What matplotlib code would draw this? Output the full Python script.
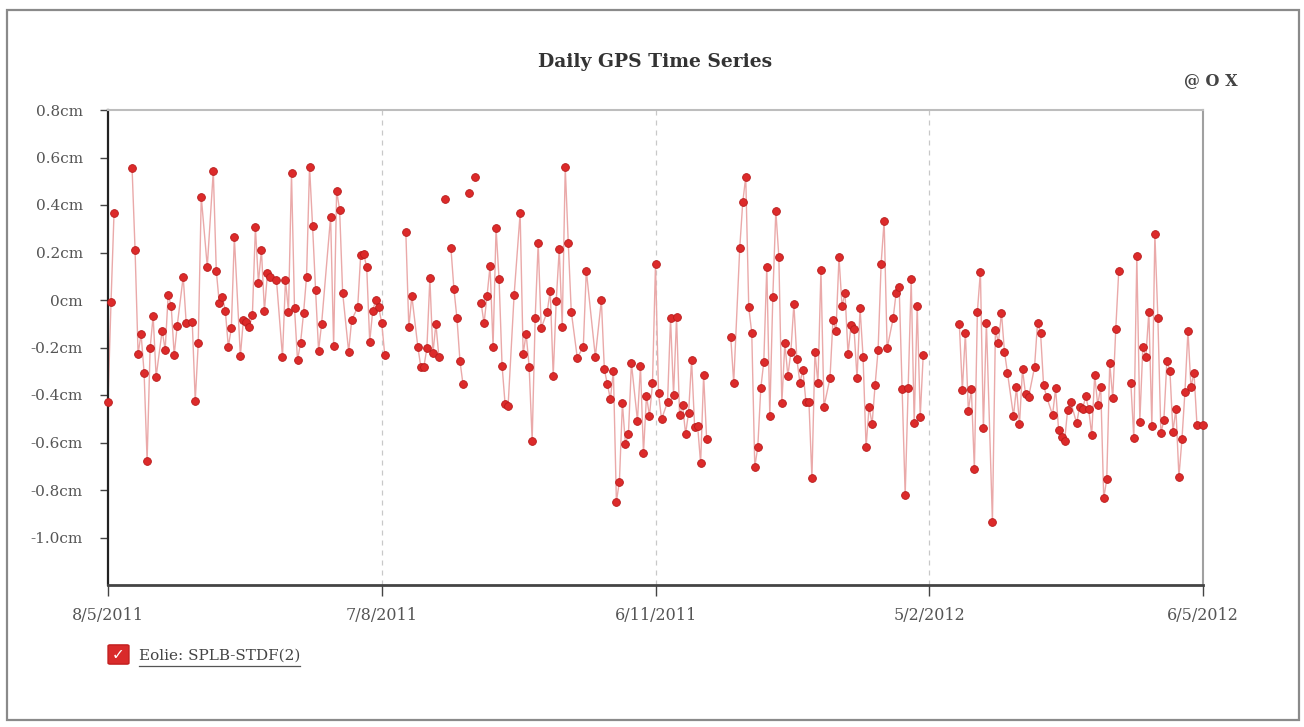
import numpy as np
import matplotlib
matplotlib.use("Agg")
import matplotlib.pyplot as plt
from matplotlib.patches import Rectangle, FancyBboxPatch
from matplotlib.lines import Line2D

# daily offsets from 8/5/2011 and position in cm (nan = no solution that day)
days = [0, 1, 2, 5, 8, 9, 10, 11, 12, 13, 14, 15, 16, 18, 19, 20, 21, 22, 23, 25, 26, 28, 29, 30,
        31, 33, 35, 36, 37, 38, 39, 40, 41, 42, 44, 45, 46, 47, 48, 49, 50, 51, 52, 53, 54, 56,
        58, 59, 60, 61, 62, 63, 64, 65, 66, 67, 68, 69, 70, 71, 74, 75, 76, 77, 78, 80, 81, 83,
        84, 85, 86, 87, 88, 89, 90, 91, 92, 95, 99, 100, 101, 103, 104, 105, 106, 107, 108, 109,
        110, 111, 112, 113, 114, 115, 116, 117, 118, 119, 120, 121, 122, 123, 124, 125, 126, 127,
        128, 129, 130, 131, 132, 133, 135, 137, 138, 139, 140, 141, 142, 143, 144, 146, 147, 148,
        149, 150, 151, 152, 153, 154, 156, 158, 159, 162, 164, 165, 166, 167, 168, 169, 170, 171,
        172, 173, 174, 176, 177, 178, 179, 180, 181, 182, 183, 184, 186, 187, 188, 189, 190, 191,
        192, 193, 194, 195, 196, 197, 198, 199, 203, 207, 208, 210, 211, 212, 213, 214, 215, 216,
        217, 218, 219, 220, 221, 222, 223, 224, 225, 226, 227, 228, 229, 230, 231, 232, 233, 234,
        235, 236, 237, 238, 240, 241, 242, 243, 244, 245, 246, 247, 248, 249, 250, 251, 252, 253,
        254, 255, 256, 257, 258, 259, 261, 262, 263, 264, 265, 266, 267, 268, 269, 270, 271, 276,
        283, 284, 285, 286, 287, 288, 289, 290, 291, 292, 294, 295, 296, 297, 298, 299, 301, 302,
        303, 304, 305, 306, 308, 309, 310, 311, 312, 314, 315, 316, 317, 318, 319, 320, 322, 323,
        324, 325, 326, 327, 328, 329, 330, 331, 332, 333, 334, 335, 336, 338, 340, 341, 342, 343,
        344, 345, 346, 347, 348, 349, 350, 351, 352, 353, 354, 355, 356, 357, 358, 359, 360, 361,
        362, 364]
nan = float("nan")
gps_cm = [-0.43, -0.01, 0.365, nan, 0.557, 0.21, -0.227, -0.143, -0.306, -0.677, -0.204, -0.067,
          -0.323, -0.129, -0.21, 0.021, -0.024, -0.231, -0.109, 0.098, -0.098, -0.091, -0.425,
          -0.182, 0.435, 0.14, 0.543, 0.122, -0.014, 0.014, -0.045, -0.197, -0.119, 0.264, -0.236,
          -0.084, -0.091, -0.112, -0.063, 0.306, 0.073, 0.21, -0.045, 0.112, 0.098, 0.084, -0.239,
          0.084, -0.049, 0.533, -0.035, -0.253, -0.182, -0.056, 0.098, 0.561, 0.312, 0.042, -0.213,
          -0.101, 0.351, -0.194, 0.46, 0.379, 0.031, -0.218, -0.084, -0.031, 0.19, 0.194, 0.138,
          -0.176, -0.045, 0.0, -0.031, -0.098, -0.231, nan, 0.288, -0.115, 0.017, -0.197, -0.283,
          -0.281, -0.204, 0.091, -0.225, -0.101, -0.239, nan, 0.424, nan, 0.218, 0.045, -0.077,
          -0.257, -0.354, nan, 0.452, nan, 0.517, nan, -0.011, -0.098, 0.017, 0.143, -0.197, 0.302,
          0.087, -0.277, -0.438, -0.446, 0.021, 0.365, -0.227, -0.143, -0.281, -0.592, -0.077,
          0.239, -0.119, -0.049, 0.039, -0.319, -0.003, 0.213, -0.112, 0.559, 0.241, -0.049, -0.243,
          -0.197, 0.124, -0.239, 0.0, -0.292, -0.355, -0.418, -0.298, -0.849, -0.765, -0.435,
          -0.606, -0.564, -0.267, -0.508, -0.278, -0.645, -0.404, -0.488, -0.351, 0.152, -0.39,
          -0.502, -0.43, -0.077, -0.4, -0.073, -0.484, -0.442, -0.564, -0.474, -0.253, -0.533,
          -0.53, -0.688, -0.316, -0.587, nan, -0.154, -0.348, 0.218, 0.411, 0.519, -0.031, -0.138,
          -0.702, -0.62, -0.372, -0.26, 0.14, -0.488, 0.014, 0.376, 0.182, -0.435, -0.182, -0.32,
          -0.218, -0.017, -0.25, -0.348, -0.295, -0.428, -0.428, -0.751, -0.218, -0.351, 0.126,
          -0.449, -0.33, -0.084, -0.129, 0.18, -0.025, 0.028, -0.227, -0.105, -0.123, -0.33,
          -0.035, -0.239, -0.62, -0.449, -0.522, -0.358, -0.21, 0.152, 0.334, -0.204, -0.077,
          0.031, 0.056, -0.376, -0.821, -0.372, 0.087, -0.519, -0.025, -0.491, -0.231, nan,
          -0.101, -0.379, -0.14, -0.466, -0.376, -0.713, -0.049, 0.119, -0.54, -0.095, -0.933,
          -0.126, -0.18, -0.053, -0.218, -0.306, -0.488, -0.368, -0.522, -0.292, -0.396, -0.41,
          -0.283, -0.095, -0.138, -0.358, -0.407, -0.484, -0.372, -0.547, -0.575, -0.592, -0.463,
          -0.428, -0.519, -0.449, -0.46, -0.404, -0.46, -0.568, -0.316, -0.442, -0.365, -0.835,
          -0.755, -0.267, -0.414, -0.123, 0.124, nan, -0.348, -0.582, 0.185, -0.512, -0.199,
          -0.241, -0.049, -0.53, 0.278, -0.077, -0.561, -0.505, -0.255, -0.298, -0.554, -0.46,
          -0.744, -0.587, -0.386, -0.129, -0.368, -0.306, -0.526, -0.526]

x_ticks = [0, 91, 182, 273, 364]
x_labels = ["8/5/2011", "7/8/2011", "6/11/2011", "5/2/2012", "6/5/2012"]
y_ticks = [0.8, 0.6, 0.4, 0.2, 0.0, -0.2, -0.4, -0.6, -0.8, -1.0]
y_labels = ["0.8cm", "0.6cm", "0.4cm", "0.2cm", "0cm", "-0.2cm", "-0.4cm", "-0.6cm", "-0.8cm", "-1.0cm"]
series_name = "Eolie: SPLB-STDF(2)"

W, H = 1304, 727
plt.rcParams["font.family"] = ["DejaVu Serif"]

fig = plt.figure(figsize=(W / 100, H / 100), dpi=100)


def fx(x):
    return x / W


def fy(y):
    return 1 - y / H


# outer frame
fig.patches.append(Rectangle((fx(7), fy(720)), fx(1299) - fx(7), fy(10) - fy(720),
                             transform=fig.transFigure, fill=False, ec="#8a8a8a", lw=1.6))

ax = fig.add_axes([fx(108), fy(585), fx(1203) - fx(108), fy(110) - fy(585)])

ax.plot(days, gps_cm, color="#eaa9a9", lw=1.0, zorder=2)
ax.plot(days, gps_cm, "o", ms=5.6, color="#dc2a2a", mec="#b81c1c", mew=0.6, zorder=3,
        clip_on=False)

ax.set_xlim(0, 364)
ax.set_ylim(-1.2, 0.8)

for t in x_ticks[1:-1]:
    ax.axvline(t, color="#c8c8c8", lw=0.9, ls=(0, (4, 4)), zorder=1)

ax.set_xticks(x_ticks)
ax.set_xticklabels(x_labels, fontsize=11.5, color="#555555")
ax.set_yticks(y_ticks)
ax.set_yticklabels(y_labels, fontsize=11, color="#555555")
ax.tick_params(axis="x", length=8, width=1, color="#444444", pad=8)
ax.tick_params(axis="y", length=6, width=1, color="#444444", pad=12)

ax.spines["left"].set_color("#222222")
ax.spines["left"].set_linewidth(1.6)
ax.spines["bottom"].set_color("#444444")
ax.spines["bottom"].set_linewidth(2.0)
ax.spines["top"].set_color("#bdbdbd")
ax.spines["top"].set_linewidth(1.5)
ax.spines["right"].set_color("#a0a0a0")
ax.spines["right"].set_linewidth(1.5)

fig.text(fx(655), fy(62), "Daily GPS Time Series", ha="center", va="center",
         fontsize=13.5, fontweight="bold", color="#333333")
fig.text(fx(1238), fy(81), "@ O X", ha="right", va="center",
         fontsize=11.5, fontweight="bold", color="#444444")

# legend item: checkbox + underlined label
fig.patches.append(FancyBboxPatch((fx(110), fy(663)), fx(127) - fx(110), fy(646) - fy(663),
                                  boxstyle="round,pad=0.0015", transform=fig.transFigure,
                                  fc="#d92b2b", ec="#c21f1f", lw=1))
fig.text(fx(118.5), fy(655), "\u2713", ha="center", va="center", fontsize=11,
         color="white", fontweight="bold", family=["DejaVu Sans"])
lbl = fig.text(fx(139), fy(656), series_name, ha="left", va="center", fontsize=11, color="#444444")
fig.canvas.draw()
bb = lbl.get_window_extent()
fig.lines.append(Line2D([bb.x0 / W, bb.x1 / W], [fy(666), fy(666)], transform=fig.transFigure,
                        color="#555555", lw=0.9))

fig.savefig("out.png", dpi=100)
